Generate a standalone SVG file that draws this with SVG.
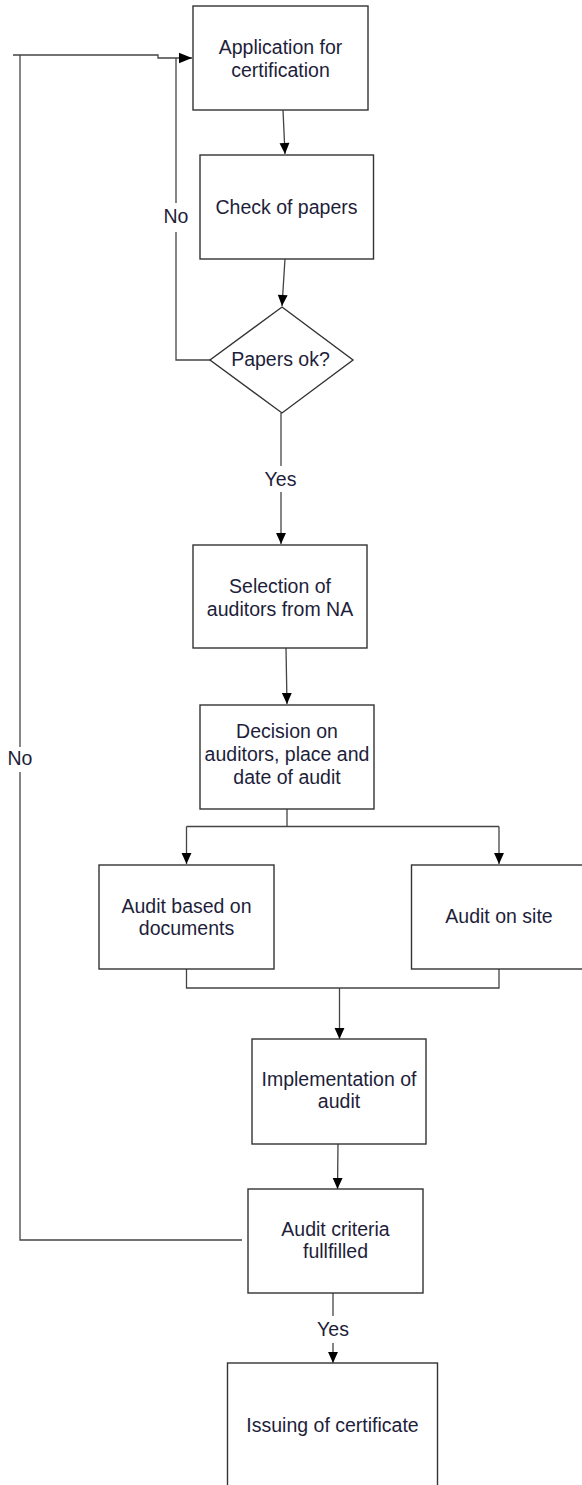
<svg xmlns="http://www.w3.org/2000/svg" width="582" height="1485" viewBox="0 0 582 1485">
<style>
.box{fill:#fff;stroke:#333;stroke-width:1.4}
.t{font-family:"Liberation Sans",Arial,sans-serif;font-size:19.5px;fill:#1e1e3a;text-anchor:middle}
.c{fill:none;stroke:#444;stroke-width:1.3}
</style>
<defs>
<marker id="ah" viewBox="0 0 10 10" refX="10" refY="5" markerWidth="12" markerHeight="11" markerUnits="userSpaceOnUse" orient="auto">
<path d="M0,0.5 L10,5 L0,9.5 Z" fill="#000"/>
</marker>
<marker id="ahb" viewBox="0 0 10 10" refX="10" refY="5" markerWidth="15" markerHeight="13" markerUnits="userSpaceOnUse" orient="auto">
<path d="M0,1 L10,5 L0,9 Z" fill="#000"/>
</marker>
</defs>
<rect width="582" height="1485" fill="#fff"/>
<g id="connectors">
<path class="c" d="M283,110 L285,154" marker-end="url(#ah)"/>
<path class="c" d="M285,259 L282,306" marker-end="url(#ah)"/>
<path class="c" d="M210,360 H176 V232"/>
<path class="c" d="M176,203 V58"/>
<path class="c" d="M13,55 H158 V58 H192" marker-end="url(#ahb)"/>
<path class="c" d="M281,413 V466"/>
<path class="c" d="M281,492 V544" marker-end="url(#ah)"/>
<path class="c" d="M286,648 L287,704" marker-end="url(#ah)"/>
<path class="c" d="M287,809 V826.5 M186.5,826.5 H499"/>
<path class="c" d="M186.5,826.5 V864" marker-end="url(#ah)"/>
<path class="c" d="M499,826.5 V864" marker-end="url(#ah)"/>
<path class="c" d="M186.5,969 V988 H499 V969"/>
<path class="c" d="M339.5,988 V1039" marker-end="url(#ah)"/>
<path class="c" d="M338,1144 L337.5,1189" marker-end="url(#ah)"/>
<path class="c" d="M242,1240 H20 V772"/>
<path class="c" d="M20,747 V55"/>
<path class="c" d="M333,1293 V1316"/>
<path class="c" d="M333,1343 V1363" marker-end="url(#ah)"/>
<text class="t" x="176" y="223">No</text>
<text class="t" x="20" y="765">No</text>
<text class="t" x="280.5" y="486">Yes</text>
<text class="t" x="333" y="1336">Yes</text>
</g>
<g id="n1"><rect class="box" x="193" y="6" width="175" height="104"/><text class="t" x="280.5" y="54">Application for</text><text class="t" x="280.5" y="76.5">certification</text></g>
<g id="n2"><rect class="box" x="200" y="155" width="173.5" height="104"/><text class="t" x="286.5" y="214">Check of papers</text></g>
<g id="n3"><polygon class="box" points="282,307 353,360 282,413 210,360"/><text class="t" x="280.5" y="366">Papers ok?</text></g>
<g id="n4"><rect class="box" x="193" y="545" width="174" height="103"/><text class="t" x="280" y="593">Selection of</text><text class="t" x="280" y="615.5">auditors from NA</text></g>
<g id="n5"><rect class="box" x="200" y="705" width="174" height="104"/><text class="t" x="287" y="738">Decision on</text><text class="t" x="287" y="761">auditors, place and</text><text class="t" x="287" y="784">date of audit</text></g>
<g id="n6"><rect class="box" x="99" y="865" width="175" height="104"/><text class="t" x="186.5" y="912.5">Audit based on</text><text class="t" x="186.5" y="935">documents</text></g>
<g id="n7"><rect class="box" x="411.5" y="865" width="175" height="104"/><text class="t" x="499" y="923">Audit on site</text></g>
<g id="n8"><rect class="box" x="252" y="1039" width="174" height="105"/><text class="t" x="339" y="1085.5">Implementation of</text><text class="t" x="339" y="1108">audit</text></g>
<g id="n9"><rect class="box" x="248" y="1189" width="175" height="104"/><text class="t" x="335.5" y="1235.5">Audit criteria</text><text class="t" x="335.5" y="1258">fullfilled</text></g>
<g id="n10"><rect class="box" x="227.5" y="1363" width="210" height="130"/><text class="t" x="332.5" y="1431.5">Issuing of certificate</text></g>
</svg>
